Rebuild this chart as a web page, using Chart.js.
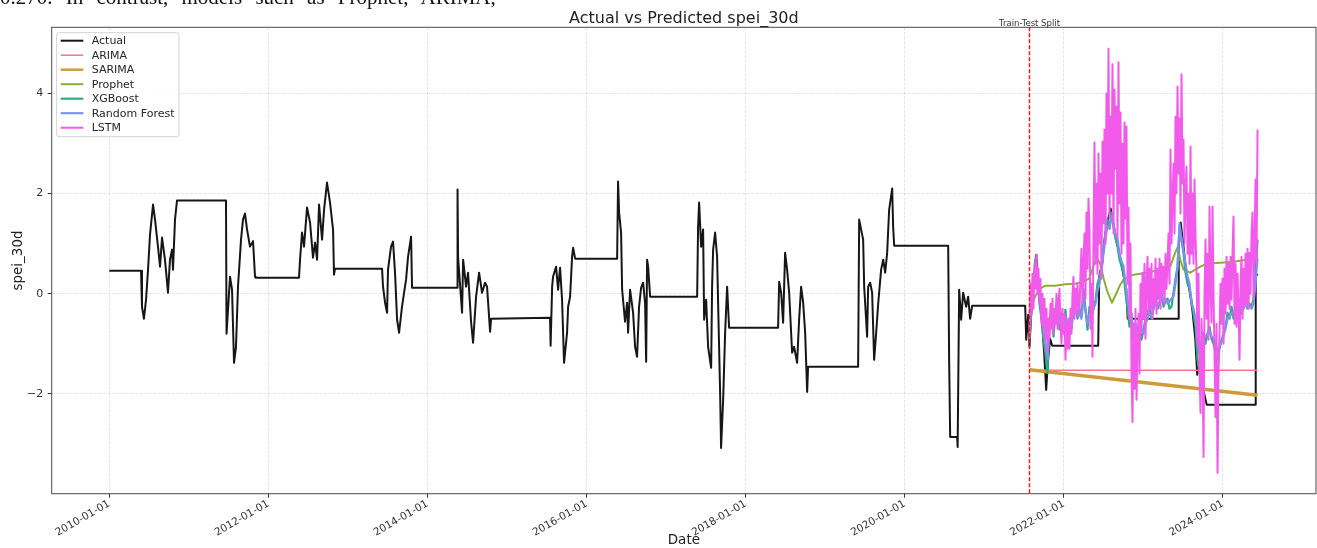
<!DOCTYPE html>
<html>
<head>
<meta charset="utf-8">
<title>Actual vs Predicted spei_30d</title>
<script src="https://cdn.jsdelivr.net/npm/chart.js@4.4.1/dist/chart.umd.min.js"></script>
<style>
  html, body { margin: 0; padding: 0; background: #fff; }
  #wrap { position: relative; width: 1317px; height: 548px; overflow: hidden; }
  #chart { position: absolute; left: 0; top: 0; }
  #para {
    position: absolute; left: 0; top: -15px; z-index: 2;
    font: 21px 'Liberation Serif', 'DejaVu Serif', serif;
    word-spacing: 8px; white-space: nowrap; color: #111;
  }
</style>
</head>
<body>
<div id="wrap">
  <div id="para">0.270. In contrast, models such as Prophet, ARIMA,</div>
  <canvas id="chart" width="1317" height="548"></canvas>
</div>
<script>
// ---- data (x values are decimal years) ----
const actualYears = [
  2010.000, 2010.399, 2010.411, 2010.436, 2010.462, 2010.487, 2010.512, 2010.550, 2010.575, 2010.612,
  2010.638, 2010.663, 2010.700, 2010.738, 2010.763, 2010.789, 2010.801, 2010.826, 2010.851, 2011.467,
  2011.474, 2011.518, 2011.543, 2011.568, 2011.593, 2011.618, 2011.656, 2011.681, 2011.706, 2011.732,
  2011.769, 2011.807, 2011.832, 2011.840, 2012.385, 2012.398, 2012.423, 2012.448, 2012.486, 2012.524,
  2012.561, 2012.587, 2012.612, 2012.637, 2012.675, 2012.700, 2012.737, 2012.775, 2012.813, 2012.825,
  2012.838, 2013.429, 2013.441, 2013.467, 2013.492, 2013.504, 2013.542, 2013.567, 2013.592, 2013.618,
  2013.643, 2013.680, 2013.706, 2013.731, 2013.756, 2013.794, 2013.806, 2014.372, 2014.378, 2014.385,
  2014.435, 2014.448, 2014.485, 2014.510, 2014.548, 2014.573, 2014.611, 2014.649, 2014.686, 2014.724,
  2014.749, 2014.787, 2014.800, 2015.541, 2015.548, 2015.567, 2015.579, 2015.617, 2015.642, 2015.667,
  2015.692, 2015.717, 2015.755, 2015.768, 2015.793, 2015.818, 2015.831, 2015.856, 2016.384, 2016.396,
  2016.409, 2016.434, 2016.447, 2016.484, 2016.510, 2016.522, 2016.547, 2016.585, 2016.610, 2016.635,
  2016.660, 2016.686, 2016.711, 2016.736, 2016.749, 2016.761, 2016.774, 2016.799, 2017.390, 2017.402,
  2017.415, 2017.440, 2017.465, 2017.478, 2017.503, 2017.528, 2017.566, 2017.578, 2017.591, 2017.616,
  2017.641, 2017.654, 2017.679, 2017.691, 2017.717, 2017.742, 2017.767, 2017.779, 2017.792, 2018.408,
  2018.421, 2018.446, 2018.471, 2018.496, 2018.521, 2018.547, 2018.584, 2018.609, 2018.647, 2018.672,
  2018.697, 2018.723, 2018.748, 2018.773, 2018.785, 2019.414, 2019.427, 2019.452, 2019.477, 2019.490,
  2019.527, 2019.540, 2019.565, 2019.590, 2019.615, 2019.641, 2019.666, 2019.703, 2019.729, 2019.754,
  2019.779, 2019.804, 2019.842, 2019.854, 2019.867, 2020.546, 2020.558, 2020.571, 2020.659, 2020.665,
  2020.684, 2020.709, 2020.734, 2020.772, 2020.797, 2020.822, 2020.848, 2021.514, 2021.527, 2021.552,
  2021.568, 2021.590, 2021.615, 2021.653, 2021.690, 2021.728, 2021.753, 2021.778, 2021.803, 2021.828,
  2021.854, 2022.432, 2022.445, 2022.482, 2022.520, 2022.558, 2022.589, 2022.608, 2022.633, 2022.671,
  2022.709, 2022.746, 2022.784, 2022.803, 2023.438, 2023.444, 2023.469, 2023.501, 2023.538, 2023.576,
  2023.614, 2023.652, 2023.677, 2023.714, 2023.752, 2023.796, 2024.406, 2024.412, 2024.435
];
const actualValues = [
  0.46, 0.46, -0.26, -0.50, -0.12, 0.48, 1.18, 1.78, 1.48, 0.94,
  0.54, 1.12, 0.68, 0.02, 0.68, 0.88, 0.48, 1.48, 1.86, 1.86,
  -0.80, 0.34, 0.08, -1.38, -1.06, 0.14, 1.08, 1.48, 1.60, 1.28,
  0.94, 1.05, 0.34, 0.32, 0.32, 0.68, 1.22, 0.94, 1.72, 1.42,
  0.72, 1.02, 0.68, 1.78, 1.08, 1.68, 2.22, 1.82, 1.28, 0.38,
  0.50, 0.50, 0.14, -0.18, -0.38, 0.48, 0.94, 1.04, 0.42, -0.52,
  -0.78, -0.26, 0.02, 0.28, 0.74, 1.14, 0.12, 0.12, 2.08, 0.72,
  -0.38, 0.68, 0.14, 0.42, -0.56, -0.98, -0.06, 0.42, 0.02, 0.22,
  0.14, -0.76, -0.50, -0.48, -1.04, 0.14, 0.34, 0.54, 0.08, 0.52,
  -0.12, -1.38, -0.78, -0.26, -0.06, 0.74, 0.92, 0.70, 0.70, 2.24,
  1.62, 1.22, 0.08, -0.56, -0.18, -0.78, 0.08, -0.38, -1.06, -1.26,
  -0.26, 0.12, 0.22, -0.20, -1.36, 0.68, 0.54, -0.06, -0.06, 1.34,
  1.82, 0.94, 1.28, -0.52, -0.12, -1.06, -1.48, 0.14, 0.88, 1.22,
  0.74, -0.20, -1.98, -3.08, -2.12, -0.78, 0.14, -0.26, -0.68, -0.68,
  0.24, 0.02, -0.58, 0.82, 0.48, 0.02, -1.18, -1.06, -1.38, -0.52,
  0.14, -0.18, -0.78, -1.96, -1.46, -1.46, 1.48, 1.28, 1.08, 0.14,
  -0.86, 0.14, 0.22, 0.02, -1.32, -0.78, -0.20, 0.48, 0.68, 0.42,
  0.82, 1.68, 2.10, 1.34, 0.96, 0.96, -1.32, -2.86, -2.86, -3.06,
  0.08, -0.52, 0.02, -0.26, -0.06, -0.50, -0.24, -0.24, -0.92, -0.42,
  -1.06, -0.40, 0.10, 0.78, 0.00, -0.60, -1.20, -1.92, -1.30, -0.90,
  -1.04, -1.04, 0.34, 0.60, 1.20, 1.50, 1.70, 1.50, 1.30, 1.00,
  0.70, 0.40, 0.10, -0.50, -0.50, 0.90, 1.42, 1.00, 0.40, 0.10,
  -0.30, -0.90, -1.62, -1.30, -1.90, -2.22, -2.22, 0.34, 0.40
];

// test period: model outputs on an even grid from the split to the last date
const splitYear = 2021.568;
const testEndYear = 2024.435;

const xgboostValues = [
  -0.90, -0.30, 0.20, 0.70, 0.30, -0.20, -0.50, -0.90, -1.20, -1.58,
  -0.50, -0.30, -0.86, -0.40, -0.10, -0.72, -0.40, -0.60, -0.32, -0.80,
  -0.50, -0.70, -0.20, -0.10, -0.50, -0.30, -0.45, 0.10, -0.30, -0.72,
  -0.26, -0.50, -0.30, -0.12, 0.20, 0.34, 0.54, 0.90, 1.22, 1.48,
  1.30, 1.62, 1.34, 1.10, 0.94, 0.68, 0.55, 0.42, 0.02, -0.30,
  -0.66, -0.38, -0.92, -0.60, -0.75, -0.60, -0.92, -0.72, -0.50, -0.38,
  -0.26, -0.50, -0.30, -0.12, -0.30, -0.20, 0.02, -0.26, -0.15, -0.10,
  -0.30, -0.26, 0.02, 0.30, 0.54, 1.34, 1.08, 0.80, 0.42, 0.20,
  0.10, -0.12, -0.40, -0.66, -1.32, -1.58, -1.00, -0.78, -1.00, -0.80,
  -0.66, -0.90, -1.00, -1.18, -1.32, -1.10, -0.92, -0.80, -0.66, -0.38,
  -0.50, -0.26, -0.50, -0.30, -0.12, -0.20, -0.40, -0.26, -0.10, -0.30,
  -0.20, -0.26, -0.10, 0.42, 1.08
];
const randomForestValues = [
  -0.70, -0.20, 0.10, 0.50, 0.20, -0.10, -0.40, -0.70, -1.00, -1.30,
  -0.70, -0.50, -0.70, -0.50, -0.30, -0.60, -0.50, -0.60, -0.45, -0.70,
  -0.60, -0.65, -0.40, -0.25, -0.45, -0.40, -0.50, -0.10, -0.35, -0.60,
  -0.40, -0.45, -0.30, -0.20, 0.05, 0.20, 0.45, 0.80, 1.10, 1.35,
  1.30, 1.55, 1.40, 1.20, 1.10, 0.80, 0.65, 0.55, 0.20, -0.10,
  -0.40, -0.50, -0.70, -0.60, -0.75, -0.65, -0.70, -0.80, -0.60, -0.50,
  -0.40, -0.45, -0.30, -0.20, -0.25, -0.15, -0.05, -0.15, -0.10, -0.20,
  -0.15, -0.10, -0.05, 0.20, 0.50, 1.40, 1.10, 0.85, 0.60, 0.35,
  0.20, -0.20, -0.30, -0.50, -1.00, -1.20, -0.95, -0.90, -0.85, -0.80,
  -0.75, -0.85, -0.90, -1.00, -1.15, -1.05, -0.95, -0.85, -0.70, -0.50,
  -0.45, -0.40, -0.35, -0.35, -0.30, -0.10, -0.25, -0.30, -0.20, -0.25,
  -0.25, -0.30, -0.20, 0.20, 0.70
];
const lstmValues = [
  -0.90, 0.20, -0.40, 0.40, -0.30, 0.60, 0.10, 0.78, 0.00, 0.50,
  -0.20, 0.30, -0.60, 0.00, -0.70, -0.10, -0.90, -0.30, -1.12, -0.50,
  -0.90, -0.20, -0.70, -0.10, -0.80, -0.30, -0.60, 0.00, -0.70, -0.20,
  0.10, -0.60, -1.00, -0.30, -0.80, -0.40, -1.32, -0.60, -1.10, -0.50,
  -1.10, -0.30, -0.80, 0.00, 0.34, -0.50, 0.10, -0.40, 0.20, -0.20,
  -0.40, 0.40, 0.90, -0.20, 0.60, 1.20, -0.10, 1.62, 0.50, 1.90,
  1.30, -0.70, 0.20, -1.26, 1.20, 3.02, 0.60, 2.20, 0.40, 2.80,
  1.00, 2.40, 0.30, 3.04, 1.40, 3.28, 1.00, 4.00, 2.00, 4.89,
  1.50, 3.54, 2.00, 4.58, 1.20, 4.08, 2.50, 3.74, 1.10, 4.62,
  1.80, 3.62, 0.80, 3.00, 1.00, 3.42, 1.50, 3.34, 0.20, 1.72,
  -0.50, 1.00, -1.58, -2.56, -0.60, -1.90, -0.30, -2.12, -1.00, -0.40,
  -1.60, 0.20, -0.78, 0.42, -0.50, 0.60, -0.90, 0.20, 0.74, -0.40,
  0.50, -0.30, 0.60, -0.50, 0.30, -0.20, 0.70, -0.40, 0.50, -0.10,
  0.70, -0.30, 0.60, 0.00, 0.54, -0.20, 0.80, 0.10, 0.60, 1.20,
  0.20, 2.88, 1.00, 1.88, 2.60, 1.20, 3.54, 2.00, 4.14, 2.40,
  3.50, 1.60, 4.38, 2.20, 3.08, 1.00, 2.08, 2.54, 0.80, 2.00,
  0.60, 2.94, 0.80, 2.00, 0.60, 2.28, 1.20, 0.42, -1.00, 0.40,
  -1.50, -2.38, -0.50, -1.20, -3.26, 0.00, 1.08, -0.50, 0.80, -0.92,
  1.74, 0.20, -0.58, 1.74, 0.00, -1.20, -2.46, -0.60, -3.58, -1.60,
  -0.80, 0.20, -0.60, 0.30, -1.00, 0.50, -0.40, 0.74, -0.20, 0.60,
  -0.30, 0.74, -0.12, 0.80, 1.54, -0.60, 0.60, -0.66, 0.40, -0.30,
  -1.32, 0.20, 0.74, -0.50, 0.50, -0.26, 0.80, -0.20, 0.90, -0.30,
  0.82, 0.00, 1.20, 1.62, -0.10, 1.00, 2.28, 0.60, 3.28
];

const prophetYears = [
  2021.568, 2021.615, 2021.652, 2021.703, 2021.766, 2021.891, 2022.017, 2022.143, 2022.243, 2022.319,
  2022.373, 2022.416, 2022.457, 2022.501, 2022.545, 2022.604, 2022.658, 2022.709, 2022.750, 2022.876,
  2023.044, 2023.212, 2023.337, 2023.400, 2023.434, 2023.463, 2023.505, 2023.589, 2023.715, 2023.799,
  2023.966, 2024.133, 2024.302, 2024.435
];
const prophetValues = [
  -0.38, -0.15, -0.02, 0.10, 0.16, 0.16, 0.19, 0.20, 0.24, 0.30,
  0.55, 0.72, 0.60, 0.30, 0.05, -0.18, 0.00, 0.18, 0.28, 0.38,
  0.42, 0.48, 0.54, 0.82, 0.94, 0.68, 0.48, 0.42, 0.54, 0.60,
  0.62, 0.64, 0.68, 0.72
];

const arimaYears = [2021.568, 2024.435];
const arimaValues = [-1.53, -1.53];
const sarimaYears = [2021.568, 2024.435];
const sarimaValues = [-1.52, -2.03];

const xTickYears = [2010, 2012, 2014, 2016, 2018, 2020, 2022, 2024];
const yTickValues = [-2, 0, 2, 4];

// ---- helpers ----
const gridYears = n => Array.from({ length: n }, (_, i) =>
  splitYear + i * (testEndYear - splitYear) / (n - 1));
const toPoints = (xs, ys) => xs.map((x, i) => ({ x, y: ys[i] }));

const FONT = "'DejaVu Sans', 'Liberation Sans', sans-serif";
const lineBase = { pointRadius: 0, fill: false, tension: 0, borderJoinStyle: 'round', borderCapStyle: 'butt', spanGaps: true };

const datasets = [
  { ...lineBase, label: 'Actual', data: toPoints(actualYears, actualValues), borderColor: '#161616', borderWidth: 2, order: 7 },
  { ...lineBase, label: 'ARIMA', data: toPoints(arimaYears, arimaValues), borderColor: '#f7738b', borderWidth: 1.5, order: 6 },
  { ...lineBase, label: 'SARIMA', data: toPoints(sarimaYears, sarimaValues), borderColor: '#cf9a3c', borderWidth: 3.5, order: 5 },
  { ...lineBase, label: 'Prophet', data: toPoints(prophetYears, prophetValues), borderColor: '#8dad34', borderWidth: 2, order: 4 },
  { ...lineBase, label: 'XGBoost', data: toPoints(gridYears(xgboostValues.length), xgboostValues), borderColor: '#2eab88', borderWidth: 2.2, order: 3 },
  { ...lineBase, label: 'Random Forest', data: toPoints(gridYears(randomForestValues.length), randomForestValues), borderColor: '#7c93ee', borderWidth: 2.2, order: 2 },
  { ...lineBase, label: 'LSTM', data: toPoints(gridYears(lstmValues.length), lstmValues), borderColor: '#f15aea', borderWidth: 2, order: 1 }
];

// frame, split marker, title and legend box
const decorations = {
  id: 'decorations',
  afterDatasetsDraw(chart) {
    const { ctx, chartArea: a, scales: { x } } = chart;
    const sx = x.getPixelForValue(splitYear);

    ctx.save();
    ctx.strokeStyle = '#ee1c1c';
    ctx.lineWidth = 1.5;
    ctx.setLineDash([4, 2]);
    ctx.beginPath();
    ctx.moveTo(sx, a.top);
    ctx.lineTo(sx, a.bottom);
    ctx.stroke();
    ctx.restore();

    ctx.save();
    ctx.strokeStyle = '#4a4a4a';
    ctx.lineWidth = 1;
    ctx.strokeRect(a.left, a.top, a.right - a.left, a.bottom - a.top);

    ctx.fillStyle = '#333';
    ctx.font = `8.5px ${FONT}`;
    ctx.textAlign = 'center';
    ctx.textBaseline = 'alphabetic';
    ctx.fillText('Train-Test Split', sx, a.top - 1.5);

    ctx.fillStyle = '#222';
    ctx.font = `16px ${FONT}`;
    ctx.fillText('Actual vs Predicted spei_30d', (a.left + a.right) / 2, a.top - 4);
    ctx.restore();
  },
  afterDraw(chart) {
    const { ctx, chartArea: a } = chart;
    const sets = chart.data.datasets;
    const bx = a.left + 5, by = a.top + 5.4, bw = 122.3, bh = 104;
    const rowH = 14.5;
    ctx.save();
    ctx.beginPath();
    if (ctx.roundRect) ctx.roundRect(bx, by, bw, bh, 2.5); else ctx.rect(bx, by, bw, bh);
    ctx.fillStyle = 'rgba(255,255,255,0.85)';
    ctx.fill();
    ctx.strokeStyle = '#d2d2d2';
    ctx.lineWidth = 1;
    ctx.stroke();
    ctx.font = `11px ${FONT}`;
    ctx.textAlign = 'left';
    ctx.textBaseline = 'middle';
    sets.forEach((ds, i) => {
      const yy = by + 8 + i * rowH;
      ctx.strokeStyle = ds.borderColor;
      ctx.lineWidth = Math.min(ds.borderWidth, 2.5);
      ctx.beginPath();
      ctx.moveTo(bx + 4, yy);
      ctx.lineTo(bx + 26.6, yy);
      ctx.stroke();
      ctx.fillStyle = '#262626';
      ctx.fillText(ds.label, bx + 35, yy + 0.5);
    });
    ctx.restore();
  }
};

const gridStyle = {
  color: 'rgba(150,150,150,0.32)',
  lineWidth: 0.8,
  drawTicks: true,
  tickLength: 4,
  tickColor: '#333',
  tickWidth: 1
};

new Chart(document.getElementById('chart'), {
  type: 'line',
  data: { datasets },
  plugins: [decorations],
  options: {
    responsive: false,
    animation: false,
    events: [],
    layout: { padding: { top: 27.3, right: 1, left: 0, bottom: 0 } },
    plugins: {
      legend: { display: false },
      title: { display: false },
      tooltip: { enabled: false }
    },
    scales: {
      x: {
        type: 'linear',
        min: 2009.276,
        max: 2025.17,
        afterBuildTicks: s => { s.ticks = xTickYears.map(v => ({ value: v })); },
        afterFit: s => { s.height = 54.3; },
        ticks: {
          autoSkip: false,
          minRotation: 30,
          maxRotation: 30,
          padding: 0,
          color: '#333',
          font: { family: FONT, size: 10.5 },
          callback: v => `${v}-01-01`
        },
        grid: gridStyle,
        border: { display: false, dash: [3, 1.6] },
        title: {
          display: true, text: 'Date', color: '#222',
          font: { family: FONT, size: 13.5, lineHeight: 1 },
          padding: { top: 0, bottom: 0.75 }
        }
      },
      y: {
        type: 'linear',
        min: -3.994,
        max: 5.32,
        afterBuildTicks: s => { s.ticks = yTickValues.map(v => ({ value: v })); },
        afterFit: s => { s.width = 51.7; },
        ticks: {
          padding: 4.4,
          color: '#333',
          font: { family: FONT, size: 11 },
          callback: v => (v < 0 ? '\u2212' + Math.abs(v) : String(v))
        },
        grid: gridStyle,
        border: { display: false, dash: [3, 1.6] },
        title: {
          display: true, text: 'spei_30d', color: '#222',
          font: { family: FONT, size: 13.5, lineHeight: 1 },
          padding: { top: 11.25, bottom: 0 }
        }
      }
    }
  }
});
</script>
</body>
</html>
